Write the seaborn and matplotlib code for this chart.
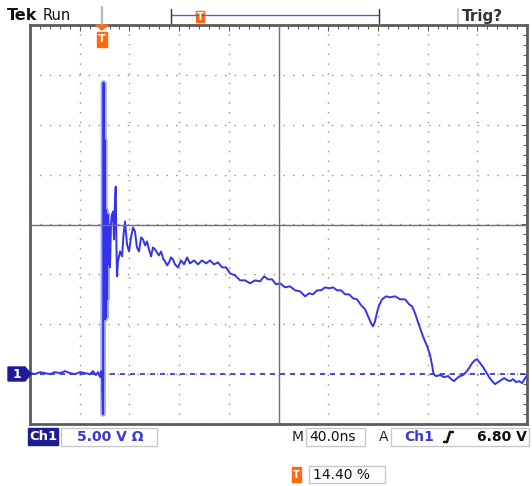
# Oscilloscope capture, redrawn with seaborn / matplotlib
import pandas as pd
import seaborn as sns
import matplotlib.pyplot as plt
from matplotlib.patches import Rectangle, Polygon
from matplotlib.lines import Line2D
from matplotlib.ticker import MultipleLocator, NullFormatter

W, H = 532, 486

# %%
# Trace: time from left edge of screen (ns), volts above ground
time_ns = [0.8, 4.0, 8.1, 12.1, 16.1, 20.1, 24.2, 28.2, 32.2, 36.2, 40.3, 44.3,
           48.3, 50.7, 53.1, 54.7, 56.4, 57.2, 58.0,
           58.8, 59.2, 59.6, 60.0, 60.4, 60.8, 61.2, 61.6, 62.0, 62.4, 62.8,
           63.6, 64.4, 65.2, 66.0, 66.8, 67.6, 68.4, 69.0, 69.5, 70.0, 70.8,
           72.5, 74.1, 75.3, 76.5, 78.1, 79.7, 81.3, 82.9, 84.5, 86.1, 87.7,
           89.4, 91.0, 92.6, 94.2, 95.8, 97.4, 99.0, 100.6, 102.2, 103.8,
           105.5, 107.1, 108.7, 110.3, 111.9, 113.5, 115.1, 116.7, 119.1,
           121.6, 124.0, 126.4, 128.8, 132.0, 135.2, 138.5, 141.7, 144.9,
           148.1, 151.3, 154.6, 157.8, 161.0, 165.0, 169.1, 173.1, 177.1,
           181.1, 185.2, 188.4, 191.6, 194.8, 198.0, 201.3, 205.3, 209.3,
           213.3, 217.4, 221.4, 224.6, 227.8, 231.0, 234.3, 237.5, 240.7,
           243.9, 247.1, 250.4, 253.6, 256.8, 260.0, 263.2, 266.5, 269.7,
           272.1, 274.5, 276.1, 277.7, 279.3, 281.0, 283.4, 286.6, 289.8,
           293.8, 297.9, 301.9, 305.1, 307.5, 309.9, 312.3, 314.8, 317.2,
           319.6, 322.0, 323.6, 324.8, 326.8, 330.1, 333.3, 336.5, 338.9,
           341.3, 343.7, 346.2, 348.6, 351.0, 353.4, 355.8, 358.2, 359.8,
           362.3, 364.7, 367.1, 369.5, 371.9, 374.3, 376.7, 379.2, 381.6,
           384.0, 386.4, 388.8, 391.2, 393.6, 396.1, 398.5, 399.8]
volts = [0.1, 0.0, 0.2, 0.1, 0.0, 0.2, 0.1, 0.3, 0.1, 0.0, 0.2, 0.1,
         0.0, 0.3, -0.1, 0.2, -0.3, 0.3, -0.5,
         -4.0, 29.2, 6.5, 23.5, 5.5, 16.5, 5.7, 14.5, 7.5, 16.0, 11.0,
         15.0, 10.7, 15.0, 16.0, 16.3, 13.5, 17.5, 18.8, 13.5, 9.8, 11.3,
         12.3, 11.8, 14.0, 15.3, 13.0, 12.3, 13.7, 14.7, 14.3, 12.7, 12.3,
         13.7, 13.5, 12.9, 13.3, 12.5, 11.8, 12.7, 12.5, 12.2, 11.9,
         12.3, 11.6, 11.3, 10.9, 11.2, 11.7, 11.5, 11.0, 10.7,
         11.4, 11.0, 11.7, 11.1, 11.4, 11.0, 11.4, 11.1, 11.4,
         11.0, 11.2, 10.7, 10.7, 10.1, 9.9, 9.4, 9.4, 9.1,
         9.4, 9.3, 9.8, 9.5, 9.5, 9.0, 9.1, 8.7, 8.8,
         8.4, 8.3, 7.8, 8.1, 8.0, 8.4, 8.4, 8.7, 8.6,
         8.7, 8.4, 8.4, 8.0, 8.0, 7.6, 7.5, 6.9, 6.5,
         5.8, 5.1, 4.8, 5.3, 6.2, 6.9, 7.5, 7.8, 7.7,
         7.8, 7.5, 7.5, 7.0, 6.8, 6.1, 5.2, 4.3, 3.5,
         2.8, 1.9, 0.9, 0.0, -0.2, -0.1, -0.3, -0.2, -0.5,
         -0.7, -0.4, -0.2, -0.1, 0.2, 0.6, 1.1, 1.4, 1.5,
         1.1, 0.7, 0.2, -0.3, -0.7, -1.0, -0.8, -0.6, -0.4,
         -0.6, -0.7, -0.5, -0.8, -0.7, -0.9, -0.4, -0.2]

# the bright, smeared first ring of the spike
spike_t = [58.8, 59.2, 59.6, 60.0, 60.4, 60.8, 61.2, 61.6, 62.0, 62.4, 62.8]
spike_v = [-4.0, 29.2, 6.5, 23.5, 5.5, 16.5, 5.7, 14.5, 7.5, 16.0, 11.0]

ns_per_div = 40
volts_per_div = 5
ch1_label = '5.00 V \u03a9'
timebase_label = '40.0ns'
trig_level_label = '6.80 V'
trig_pos_label = '14.40 %'

df = pd.DataFrame({'t': time_ns, 'v': volts})
spike_df = pd.DataFrame({'t': spike_t, 'v': spike_v})

trace_blue = '#3434e6'
navy = '#1c1c96'
orange = '#ff6a10'
frame_gray = '#5c5c5c'
dot_gray = '#8e8e8e'


def fx(px):
    return px / W


def fy(py):
    return 1 - py / H


# %%
sns.set_style('white')
plt.rcParams['font.family'] = ['DejaVu Sans']
fig = plt.figure(figsize=(W / 100, H / 100), dpi=100)
fig.patch.set_facecolor('white')

left, right, top, bottom = 30, 527, 25, 424
ax = fig.add_axes([fx(left), fy(bottom), (right - left) / W, (bottom - top) / H])
ax.set_xlim(0, 10 * ns_per_div)
ax.set_ylim(-1 * volts_per_div, 7 * volts_per_div)

ax.xaxis.set_major_locator(MultipleLocator(ns_per_div))
ax.xaxis.set_minor_locator(MultipleLocator(ns_per_div / 5))
ax.yaxis.set_major_locator(MultipleLocator(volts_per_div))
ax.yaxis.set_minor_locator(MultipleLocator(volts_per_div / 5))
ax.xaxis.set_major_formatter(NullFormatter())
ax.yaxis.set_major_formatter(NullFormatter())
ax.tick_params(which='both', direction='in', top=True, right=True,
               color=frame_gray, width=0.8)
ax.tick_params(which='major', length=4)
ax.tick_params(which='minor', length=3)
ax.grid(True, which='major', color=dot_gray, linestyle=(0, (1, 6)), linewidth=1.0)
for s in ax.spines.values():
    s.set_color(frame_gray)
    s.set_linewidth(2)

# centre cross with its own minor ticks
cx = fig.add_axes(ax.get_position())
cx.set_xlim(ax.get_xlim())
cx.set_ylim(ax.get_ylim())
cx.patch.set_visible(False)
cx.spines['top'].set_visible(False)
cx.spines['right'].set_visible(False)
cx.spines['left'].set_position(('data', 5 * ns_per_div))
cx.spines['bottom'].set_position(('data', 3 * volts_per_div))
for s in ['left', 'bottom']:
    cx.spines[s].set_color('#707070')
    cx.spines[s].set_linewidth(1.0)
cx.xaxis.set_major_locator(MultipleLocator(ns_per_div))
cx.xaxis.set_minor_locator(MultipleLocator(ns_per_div / 5))
cx.yaxis.set_major_locator(MultipleLocator(volts_per_div))
cx.yaxis.set_minor_locator(MultipleLocator(volts_per_div / 5))
cx.xaxis.set_major_formatter(NullFormatter())
cx.yaxis.set_major_formatter(NullFormatter())
cx.tick_params(which='both', direction='inout', length=5, color='#707070', width=0.8)

# ground reference and trace
ax.axhline(0, color='#2a2ad8', linestyle=(0, (3, 3)), linewidth=1.2, zorder=3)
sns.lineplot(data=spike_df, x='t', y='v', ax=ax, color='#9fa8ff', linewidth=4,
             estimator=None, sort=False, zorder=4)
sns.lineplot(data=df, x='t', y='v', ax=ax, color=trace_blue, linewidth=1.4,
             estimator=None, sort=False, zorder=5)
ax.set_xlabel('')
ax.set_ylabel('')

# %%
# Screen annotations (figure pixel coords)
fig.text(fx(7), fy(16), 'Tek', fontsize=11.5, fontweight='bold', va='center',
         color='#111111')
fig.text(fx(43), fy(16), 'Run', fontsize=10.5, va='center', color='#111111')
fig.text(fx(462), fy(16), 'Trig?', fontsize=11, fontweight='bold', va='center',
         color='#333333')
fig.add_artist(Line2D([fx(458), fx(458)], [fy(9), fy(23)], color='#d0d0d0', lw=1.5))

# trigger position tick above the screen
fig.add_artist(Line2D([fx(102), fx(102)], [fy(7), fy(24)], color='#b8b8b8', lw=1.6))

# record-length bracket
fig.add_artist(Line2D([fx(171), fx(379)], [fy(15), fy(15)], color='#5a5adc', lw=1))
for bx in (171, 379):
    fig.add_artist(Line2D([fx(bx), fx(bx)], [fy(9), fy(23)], color='#333333', lw=1))
fig.add_artist(Rectangle((fx(196), fy(22)), 8 / W, 11 / H, color=orange))
fig.text(fx(200), fy(16.5), 'T', fontsize=7, color='white', ha='center', va='center',
         fontweight='bold')

# trigger marker on the screen top
fig.add_artist(Polygon([[fx(96), fy(25)], [fx(108), fy(25)], [fx(102), fy(30)]],
                       closed=True, color=orange))
fig.add_artist(Rectangle((fx(97), fy(47)), 10 / W, 15 / H, color=orange))
fig.text(fx(102), fy(39.5), 'T', fontsize=8, color='white', ha='center', va='center',
         fontweight='bold')

# ground marker for channel 1
fig.add_artist(Polygon([[fx(8), fy(367)], [fx(25), fy(367)], [fx(31), fy(374)],
                        [fx(25), fy(381)], [fx(8), fy(381)]], closed=True, color=navy))
fig.text(fx(17), fy(374), '1', fontsize=9, color='white', ha='center', va='center',
         fontweight='bold')

# bottom status line
sy = 437
fig.add_artist(Rectangle((fx(28), fy(445)), 30 / W, 17 / H, color=navy))
fig.text(fx(43), fy(sy), 'Ch1', fontsize=9.5, color='white', ha='center', va='center',
         fontweight='bold')
fig.add_artist(Rectangle((fx(61), fy(446)), 96 / W, 18 / H, fill=False,
                         edgecolor='#c8c8c8', lw=1))
fig.text(fx(77), fy(sy), ch1_label, fontsize=10, color='#3a3ad0', va='center',
         fontweight='bold')

fig.text(fx(292), fy(sy), 'M', fontsize=10, color='#222222', va='center')
fig.add_artist(Rectangle((fx(306), fy(446)), 59 / W, 18 / H, fill=False,
                         edgecolor='#c8c8c8', lw=1))
fig.text(fx(309), fy(sy), timebase_label, fontsize=10, color='#111111', va='center')

fig.text(fx(379), fy(sy), 'A', fontsize=10, color='#222222', va='center')
fig.add_artist(Rectangle((fx(391), fy(446)), 138 / W, 18 / H, fill=False,
                         edgecolor='#c8c8c8', lw=1))
fig.text(fx(404), fy(sy), 'Ch1', fontsize=10, color='#3a3ad0', va='center',
         fontweight='bold')
fig.add_artist(Line2D([fx(444), fx(447), fx(450), fx(453)],
                      [fy(442), fy(442), fy(432), fy(432)], color='#111111', lw=1.8))
fig.text(fx(527), fy(sy), trig_level_label, fontsize=10, color='#111111', va='center',
         ha='right', fontweight='bold')

# trigger position readout
fig.add_artist(Rectangle((fx(292), fy(482)), 9 / W, 15 / H, color=orange))
fig.text(fx(296.5), fy(474.5), 'T', fontsize=7, color='white', ha='center',
         va='center', fontweight='bold')
fig.add_artist(Rectangle((fx(309), fy(483)), 76 / W, 17 / H, fill=False,
                         edgecolor='#c8c8c8', lw=1))
fig.text(fx(313), fy(474.5), trig_pos_label, fontsize=10, color='#111111', va='center')

fig.savefig('out.png', dpi=100)
